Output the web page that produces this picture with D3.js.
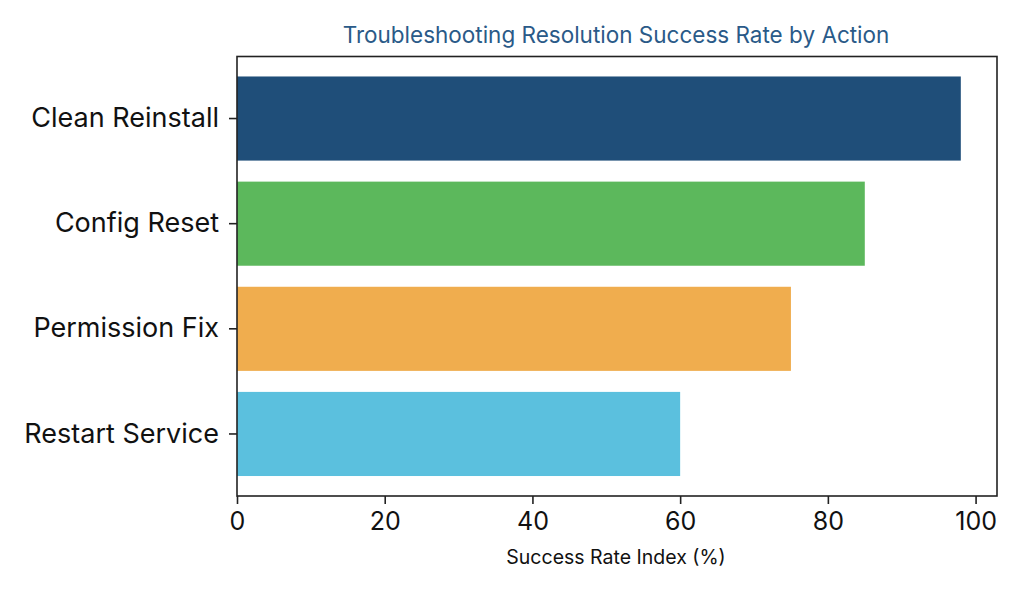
<!DOCTYPE html>
<html>
<head>
<meta charset="utf-8">
<script src="https://cdn.jsdelivr.net/npm/d3@7"></script>
<style>
  body { margin: 0; background: #fff; }
  text { font-family: Inter, "Open Sans", sans-serif; fill: #111; }
</style>
</head>
<body>
<svg width="1024" height="597"></svg>
<script>
let actions = ["Clean Reinstall", "Config Reset", "Permission Fix", "Restart Service"];
let rates = [98, 85, 75, 60];
let colors = ["#1f4e79", "#5cb85c", "#f0ad4e", "#5bc0de"];
let xTicks = [0, 20, 40, 60, 80, 100];

let plotLeft = 237, plotRight = 997, plotTop = 56.5, plotBottom = 496;

let svg = d3.select("svg");

let x = d3
  .scaleLinear()
  .domain([0, d3.max(rates) * 1.05])
  .range([plotLeft, plotRight]);

let y = d3
  .scaleBand()
  .domain(actions)
  .range([plotTop, plotBottom])
  .paddingInner(0.2)
  .paddingOuter(0.19);

svg
  .selectAll("rect.bar")
  .data(actions)
  .enter()
  .append("rect")
  .classed("bar", true)
  .attr("x", x(0))
  .attr("y", d => y(d))
  .attr("width", (d, i) => x(rates[i]) - x(0))
  .attr("height", y.bandwidth())
  .style("fill", (d, i) => colors[i]);

// frame
svg
  .append("rect")
  .attr("x", plotLeft)
  .attr("y", plotTop)
  .attr("width", plotRight - plotLeft)
  .attr("height", plotBottom - plotTop)
  .style("fill", "none")
  .style("stroke", "#222")
  .style("stroke-width", 1.6);

let xAxis = svg
  .append("g")
  .attr("transform", `translate(0, ${plotBottom})`)
  .call(d3.axisBottom(x).tickValues(xTicks).tickSize(8).tickPadding(8));
xAxis.select(".domain").remove();
xAxis.selectAll("line").style("stroke", "#222").style("stroke-width", 1.6);
xAxis.selectAll("text").style("font-size", "25px").style("fill", "#111");

let yAxis = svg
  .append("g")
  .attr("transform", `translate(${plotLeft}, 0)`)
  .call(d3.axisLeft(y).tickSize(8).tickPadding(10));
yAxis.select(".domain").remove();
yAxis.selectAll("line").style("stroke", "#222").style("stroke-width", 1.6);
yAxis.selectAll("text").style("font-size", "27px").style("fill", "#111");

svg
  .append("text")
  .attr("x", 616)
  .attr("y", 43)
  .attr("text-anchor", "middle")
  .style("font-size", "22.5px")
  .style("fill", "#2a5a88")
  .text("Troubleshooting Resolution Success Rate by Action");

svg
  .append("text")
  .attr("x", 616)
  .attr("y", 564)
  .attr("text-anchor", "middle")
  .style("font-size", "19.5px")
  .text("Success Rate Index (%)");
</script>
</body>
</html>
